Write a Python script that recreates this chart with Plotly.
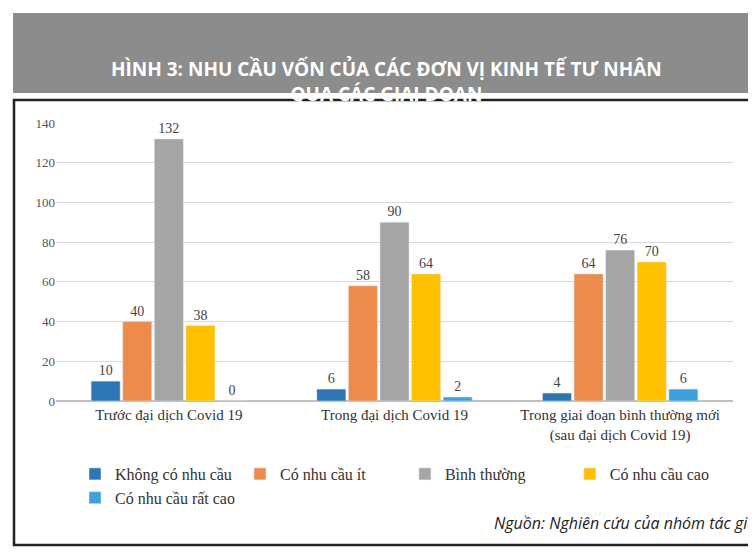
import plotly.graph_objects as go

categories = ["Trước đại dịch Covid 19", "Trong đại dịch Covid 19",
              "Trong giai đoạn bình thường mới<br>(sau đại dịch Covid 19)"]
series_names = ["Không có nhu cầu", "Có nhu cầu ít", "Bình thường",
                "Có nhu cầu cao", "Có nhu cầu rất cao"]
series_values = [[10, 6, 4], [40, 58, 64], [132, 90, 76], [38, 64, 70], [0, 2, 6]]
colors = ["#2e75b6", "#ed8b4c", "#a5a5a5", "#ffc000", "#3fa0e0"]

W, H = 756, 557
L, R, T, B = 48, 31, 115, 164
pw, ph = W - L - R, H - T - B


def px(x):
    return (x - L) / pw


def py(y):
    return (H - B - y) / ph


fig = go.Figure()
for name, vals, c in zip(series_names, series_values, colors):
    fig.add_trace(go.Bar(
        x=categories, y=vals, name=name, marker_color=c,
        text=vals, textposition="outside", cliponaxis=False,
        textfont=dict(family="Liberation Serif", size=14, color="#444"),
    ))

fig.update_layout(
    width=W, height=H, margin=dict(l=L, r=R, t=T, b=B, autoexpand=False),
    paper_bgcolor="white", plot_bgcolor="white",
    barmode="group", bargap=0.3, bargroupgap=0.08,
    font=dict(family="Liberation Serif", size=14, color="#333"),
    yaxis=dict(range=[0, 140], dtick=20, gridcolor="#d9d9d9", automargin=False,
               zeroline=True, zerolinecolor="#bfbfbf",
               tickfont=dict(size=13, color="#555")),
    xaxis=dict(tickfont=dict(size=15, color="#333"), showline=True, linecolor="#bfbfbf",
               automargin=False),
    legend=dict(orientation="h", x=0.5, xanchor="center", y=py(478), yanchor="middle",
                font=dict(size=16, color="#333"), itemwidth=30, traceorder="normal",
                entrywidthmode="pixels", entrywidth=0, tracegroupgap=0),
    showlegend=True,
    shapes=[
        dict(type="rect", xref="paper", yref="paper", x0=px(5), x1=px(750),
             y0=py(85), y1=py(5), fillcolor="#8c8c8c", line_width=0, layer="below"),
        dict(type="rect", xref="paper", yref="paper", x0=px(6), x1=px(750),
             y0=py(537), y1=py(92), line=dict(color="#222", width=2.5), layer="below"),
    ],
    annotations=[
        dict(xref="paper", yref="paper", x=px(378), y=py(46), showarrow=False,
             text="<b>HÌNH 3: NHU CẦU VỐN CỦA CÁC ĐƠN VỊ KINH TẾ TƯ NHÂN<br>QUA CÁC GIAI ĐOẠN</b>",
             font=dict(family="Open Sans", size=19, color="white"), align="center"),
        dict(xref="paper", yref="paper", x=px(750), y=py(528), xanchor="right", showarrow=False,
             text="<i>Nguồn: Nghiên cứu của nhóm tác giả</i>",
             font=dict(family="Open Sans", size=16, color="#222")),
    ],
)

fig.write_html("out.html")
